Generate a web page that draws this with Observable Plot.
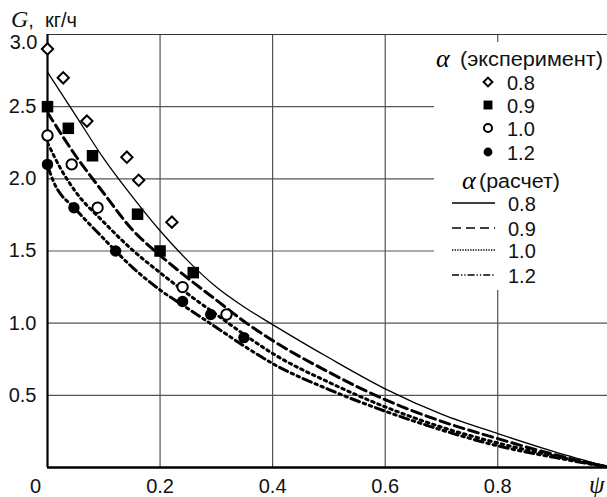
<!DOCTYPE html>
<html><head><meta charset="utf-8">
<script src="https://cdn.jsdelivr.net/npm/d3@7"></script>
<script src="https://cdn.jsdelivr.net/npm/@observablehq/plot@0.6"></script>
<style>
html,body{margin:0;padding:0;background:#fff;}
#wrap{position:relative;width:607px;height:497px;overflow:hidden;font-family:"Liberation Sans",Arial,sans-serif;color:#111;}
.ov{position:absolute;white-space:nowrap;line-height:1;}
.serif{font-family:"Liberation Serif","Times New Roman",serif;font-style:italic;}
</style></head><body><div id="wrap"></div>
<script>
// ---- data ----
const xTicks = [0.2, 0.4, 0.6, 0.8];
const yTicks = [0.5, 1.0, 1.5, 2.0, 2.5, 3.0];
const alphaLabels = ["0.8", "0.9", "1.0", "1.2"];

// calculated curves (psi, G)
const calc08Psi = [0,0.05,0.1,0.15,0.2,0.25,0.3,0.35,0.4,0.5,0.6,0.7,0.8,0.9,1.0];
const calc08G   = [2.74,2.44,2.14,1.88,1.64,1.43,1.25,1.11,0.99,0.76,0.545,0.37,0.235,0.11,0];
const calc09Psi = [0,0.05,0.1,0.15,0.2,0.25,0.3,0.35,0.4,0.5,0.6,0.7,0.8,0.9,1.0];
const calc09G   = [2.46,2.16,1.90,1.65,1.47,1.31,1.16,1.01,0.88,0.66,0.47,0.32,0.20,0.09,0];
const calc10Psi = [0,0.025,0.05,0.1,0.15,0.2,0.25,0.3,0.35,0.4,0.5,0.6,0.7,0.8,0.9,1.0];
const calc10G   = [2.25,2.06,1.91,1.70,1.51,1.35,1.20,1.06,0.92,0.79,0.59,0.42,0.28,0.17,0.08,0];
const calc12Psi = [0,0.012,0.05,0.1,0.15,0.2,0.25,0.3,0.35,0.4,0.5,0.6,0.7,0.8,0.9,1.0];
const calc12G   = [2.09,1.97,1.79,1.585,1.39,1.23,1.10,0.97,0.84,0.72,0.54,0.39,0.26,0.15,0.07,0];

// experimental points (psi, G)
const exp08Psi = [0,0.028,0.070,0.141,0.162,0.221];
const exp08G   = [2.90,2.70,2.40,2.15,1.99,1.70];
const exp09Psi = [0,0.037,0.080,0.160,0.200,0.259];
const exp09G   = [2.50,2.35,2.16,1.755,1.50,1.35];
const exp10Psi = [0,0.043,0.089,0.240,0.318];
const exp10G   = [2.30,2.10,1.80,1.25,1.06];
const exp12Psi = [0,0.047,0.121,0.240,0.290,0.349];
const exp12G   = [2.10,1.80,1.50,1.15,1.06,0.90];

const zip = (a, b) => a.map((x, i) => ({x, y: b[i]}));
const fmt = d3.format(".1f");

const lineStyles = [
  {data: zip(calc08Psi, calc08G), strokeWidth: 1.3, dash: null},
  {data: zip(calc09Psi, calc09G), strokeWidth: 3, dash: "10,5"},
  {data: zip(calc10Psi, calc10G), strokeWidth: 3, dash: "2.5,4"},
  {data: zip(calc12Psi, calc12G), strokeWidth: 3, dash: "9,4,2.5,4,2.5,4"}
];
const dotStyles = [
  {data: zip(exp08Psi, exp08G), symbol: "diamond2", r: 5.1, fill: "#fff", stroke: "#000", sw: 2},
  {data: zip(exp09Psi, exp09G), symbol: "square", r: 6.5, fill: "#000", stroke: "none", sw: 0},
  {data: zip(exp10Psi, exp10G), symbol: "circle", r: 5.2, fill: "#fff", stroke: "#000", sw: 2},
  {data: zip(exp12Psi, exp12G), symbol: "circle", r: 5.7, fill: "#000", stroke: "none", sw: 0}
];

const FS = 20;
const chart = Plot.plot({
  width: 607, height: 497,
  marginLeft: 47, marginRight: 0, marginTop: 34, marginBottom: 30,
  x: {domain: [0, 0.995], axis: null},
  y: {domain: [0, 3], axis: null},
  style: {fontFamily: "Liberation Sans, Arial, sans-serif", fontSize: FS + "px", color: "#111", background: "#fff", overflow: "hidden"},
  marks: [
    Plot.ruleX(xTicks, {x: d => d, stroke: "#444", strokeWidth: 1.1}),
    Plot.ruleY(yTicks.filter(v => v < 3), {y: d => d, stroke: "#555", strokeWidth: 1.1}),
    Plot.ruleY([3.0], {y: d => d, stroke: "#333", strokeWidth: 1.2}),
    ...lineStyles.map(s => Plot.line(s.data, {x: "x", y: "y", curve: "monotone-x", stroke: "#000",
      strokeWidth: s.strokeWidth, strokeDasharray: s.dash, clip: true})),
    Plot.ruleX([0], {x: d => d, stroke: "#000", strokeWidth: 2.2}),
    Plot.ruleY([0], {y: d => d, stroke: "#000", strokeWidth: 2.6}),
    ...dotStyles.map(s => Plot.dot(s.data, {x: "x", y: "y", symbol: s.symbol, r: s.r, fill: s.fill,
      stroke: s.stroke, strokeWidth: s.sw})),
    Plot.text(yTicks.filter(v => v < 3), {x: () => 0, y: d => d, text: d => fmt(d), textAnchor: "end", dx: -11, fill: "#111", fontSize: FS}),
    Plot.text([3.0], {x: () => 0, y: d => d, text: d => fmt(d), textAnchor: "end", dx: -10, dy: 8, fill: "#111", fontSize: FS}),
    Plot.text(xTicks, {x: d => d, y: () => 0, text: d => fmt(d), dy: 19, fill: "#111", fontSize: FS}),
    Plot.text([0], {x: d => d, y: () => 0, text: d => String(d), dx: -12, dy: 19, fill: "#111", fontSize: FS})
  ]
});

const wrap = document.getElementById("wrap");
wrap.appendChild(chart);

// axis titles
const yt = document.createElement("div");
yt.className = "ov";
yt.style.left = "11px"; yt.style.top = "7px";
yt.innerHTML = '<span class="serif" style="font-size:24px">G</span><span style="font-size:20px">,&nbsp; кг/ч</span>';
wrap.appendChild(yt);
const xt = document.createElement("div");
xt.className = "ov serif";
xt.style.left = "589px"; xt.style.top = "472px"; xt.style.fontSize = "25px";
xt.textContent = "ψ";
wrap.appendChild(xt);

// legend overlay
const L = {left: 434, top: 42, w: 173, h: 248};
const svg = d3.create("svg").attr("width", L.w).attr("height", L.h)
  .style("position", "absolute").style("left", L.left + "px").style("top", L.top + "px").style("background", "#fff");
const g = svg.append("g").attr("transform", `translate(${-L.left},${-L.top})`);
const sans = "Liberation Sans, Arial, sans-serif";
const serif = "Liberation Serif, Times New Roman, serif";
function title(xa, xt2, y, txt, len) {
  g.append("text").attr("x", xa).attr("y", y).attr("dominant-baseline", "central")
    .attr("font-family", serif).attr("font-style", "italic").attr("font-size", 26).text("α");
  g.append("text").attr("x", xt2).attr("y", y + 1).attr("dominant-baseline", "central")
    .attr("font-family", sans).attr("font-size", FS).attr("textLength", len)
    .attr("lengthAdjust", "spacingAndGlyphs").attr("fill", "#111").text(txt);
}
title(436, 460, 58, "(эксперимент)", 143);
const rowY1 = [82, 105, 128, 152];
dotStyles.forEach((s, i) => {
  const area = Math.PI * s.r * s.r * 0.6;
  const sym = {diamond2: d3.symbolDiamond2, square: d3.symbolSquare, circle: d3.symbolCircle}[s.symbol];
  g.append("path").attr("d", d3.symbol(sym, area)()).attr("transform", `translate(488,${rowY1[i]})`)
    .attr("fill", s.fill).attr("stroke", s.stroke).attr("stroke-width", s.sw);
  g.append("text").attr("x", 507).attr("y", rowY1[i] + 1).attr("dominant-baseline", "central")
    .attr("font-family", sans).attr("font-size", FS).attr("fill", "#111").text(alphaLabels[i]);
});
title(462, 479, 180, "(расчет)", 81);
const rowY2 = [203, 228, 250, 275];
const legDash = [null, "9,5", "1.3,1.3", "7,2,1.3,2,1.3,2"];
lineStyles.forEach((s, i) => {
  g.append("line").attr("x1", 452).attr("x2", 495).attr("y1", rowY2[i]).attr("y2", rowY2[i])
    .attr("stroke", "#000").attr("stroke-width", 1.3).attr("stroke-dasharray", legDash[i]);
  g.append("text").attr("x", 508).attr("y", rowY2[i] + 1).attr("dominant-baseline", "central")
    .attr("font-family", sans).attr("font-size", FS).attr("fill", "#111").text(alphaLabels[i]);
});
wrap.appendChild(svg.node());
</script></body></html>
